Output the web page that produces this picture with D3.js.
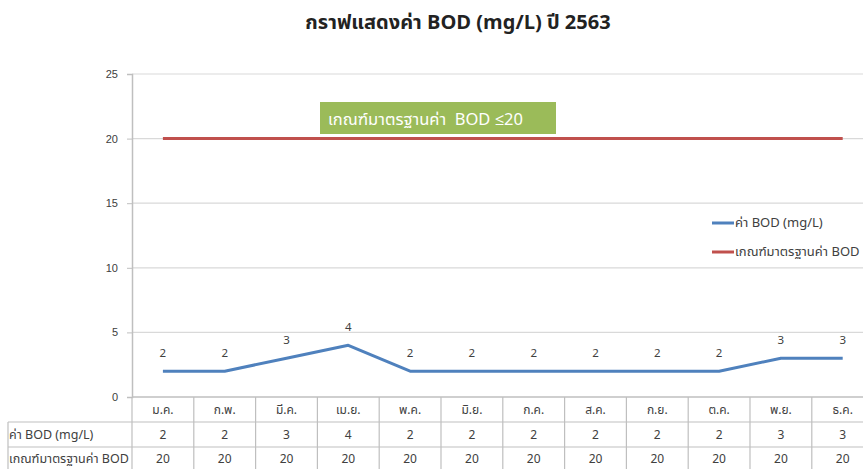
<!DOCTYPE html>
<html><head><meta charset="utf-8">
<script src="https://cdn.jsdelivr.net/npm/d3@7"></script>
<style>
body{margin:0;background:#fff;}
svg{font-family:"Noto Sans Thai","Noto Sans","Open Sans",sans-serif;}
</style></head><body>
<svg id="c" width="863" height="469"></svg>
<script>
const months = ["ม.ค.","ก.พ.","มี.ค.","เม.ย.","พ.ค.","มิ.ย.","ก.ค.","ส.ค.","ก.ย.","ต.ค.","พ.ย.","ธ.ค."];
const bodValues = [2,2,3,4,2,2,2,2,2,2,3,3];
const standardValues = [20,20,20,20,20,20,20,20,20,20,20,20];
const seriesNames = ["ค่า BOD (mg/L)","เกณฑ์มาตรฐานค่า BOD"];
const yTicks = [0,5,10,15,20,25];
const title = "กราฟแสดงค่า BOD (mg/L) ปี 2563";
const note = "เกณฑ์มาตรฐานค่า  BOD ≤20";

const svg = d3.select("#c");
const pLeft = 132, pRight = 873.6, pTop = 74, pBottom = 397;
const x = d3.scaleBand().domain(months).range([pLeft, pRight]);
const y = d3.scaleLinear().domain([0,25]).range([pBottom, pTop]);
const gridC = "#d9d9d9", textC = "#404040";

svg.append("text").attr("x",458).attr("y",29).attr("text-anchor","middle")
  .attr("font-size",20).attr("font-weight","bold").attr("fill","#222").text(title);

// gridlines
svg.append("g").selectAll("line").data(yTicks.filter(d=>d>0)).join("line")
  .attr("x1",pLeft).attr("x2",pRight).attr("y1",d=>y(d)).attr("y2",d=>y(d))
  .attr("stroke",gridC).attr("stroke-width",1.2);

// y axis
const ya = svg.append("g").attr("transform",`translate(${pLeft},0)`)
  .call(d3.axisLeft(y).tickValues(yTicks).tickSize(5).tickPadding(9));
ya.select(".domain").attr("stroke","#bfbfbf").attr("stroke-width",1.5);
ya.selectAll(".tick line").attr("stroke","#bfbfbf");
ya.selectAll(".tick text").attr("font-size",11).attr("fill",textC);

// x axis baseline
svg.append("line").attr("x1",pLeft).attr("x2",pRight).attr("y1",pBottom).attr("y2",pBottom)
  .attr("stroke","#bfbfbf").attr("stroke-width",1.5);

// table
const rowH = [397,422,447,471];
const tbl = svg.append("g");
const bounds = months.map(m=>x(m)).concat([pRight]);
tbl.selectAll("line.v").data(bounds).join("line").attr("class","v")
  .attr("x1",d=>d).attr("x2",d=>d).attr("y1",rowH[0]).attr("y2",rowH[3])
  .attr("stroke","#bfbfbf").attr("stroke-width",1.2);
tbl.selectAll("line.h").data([rowH[1],rowH[2]]).join("line").attr("class","h")
  .attr("x1",8).attr("x2",pRight).attr("y1",d=>d).attr("y2",d=>d)
  .attr("stroke","#bfbfbf").attr("stroke-width",1.2);
tbl.append("line").attr("x1",8).attr("x2",8).attr("y1",rowH[1]).attr("y2",rowH[3])
  .attr("stroke","#bfbfbf").attr("stroke-width",1.2);

tbl.selectAll("text.m").data(months).join("text").attr("class","m")
  .attr("x",d=>x(d)+x.bandwidth()/2).attr("y",(rowH[0]+rowH[1])/2+4)
  .attr("text-anchor","middle").attr("font-size",12).attr("fill",textC).text(d=>d);
[bodValues, standardValues].forEach((vals,r)=>{
  tbl.append("text").attr("x",9).attr("y",(rowH[r+1]+rowH[r+2])/2+4)
    .attr("font-size",12.5).attr("fill",textC).text(seriesNames[r]);
  tbl.selectAll("text.r"+r).data(vals).join("text").attr("class","r"+r)
    .attr("x",(d,i)=>x(months[i])+x.bandwidth()/2).attr("y",(rowH[r+1]+rowH[r+2])/2+4)
    .attr("text-anchor","middle").attr("font-size",12).attr("fill",textC).text(d=>d);
});

// lines
const line = d3.line().x((d,i)=>x(months[i])+x.bandwidth()/2).y(d=>y(d));
svg.append("path").datum(standardValues).attr("d",line).attr("fill","none")
  .attr("stroke","#c0504d").attr("stroke-width",3);
svg.append("path").datum(bodValues).attr("d",line).attr("fill","none")
  .attr("stroke","#4f81bd").attr("stroke-width",3).attr("stroke-linejoin","round");

// data labels
svg.selectAll("text.dl").data(bodValues).join("text").attr("class","dl")
  .attr("x",(d,i)=>x(months[i])+x.bandwidth()/2).attr("y",d=>y(d)-14)
  .attr("text-anchor","middle").attr("font-size",11.5).attr("fill",textC).text(d=>d);

// annotation
svg.append("rect").attr("x",320).attr("y",102).attr("width",236).attr("height",32).attr("fill","#9bbb59");
svg.append("text").attr("x",328).attr("y",125).attr("font-size",16.5).attr("fill","#fff")
  .style("white-space","pre").text(note);

// legend
const lg = svg.append("g");
[["#4f81bd",223],["#c0504d",252]].forEach((c,i)=>{
  lg.append("line").attr("x1",712).attr("x2",734).attr("y1",c[1]).attr("y2",c[1])
    .attr("stroke",c[0]).attr("stroke-width",3);
  lg.append("text").attr("x",735).attr("y",c[1]+4).attr("font-size",13).attr("fill",textC).text(seriesNames[i]);
});
</script></body></html>
